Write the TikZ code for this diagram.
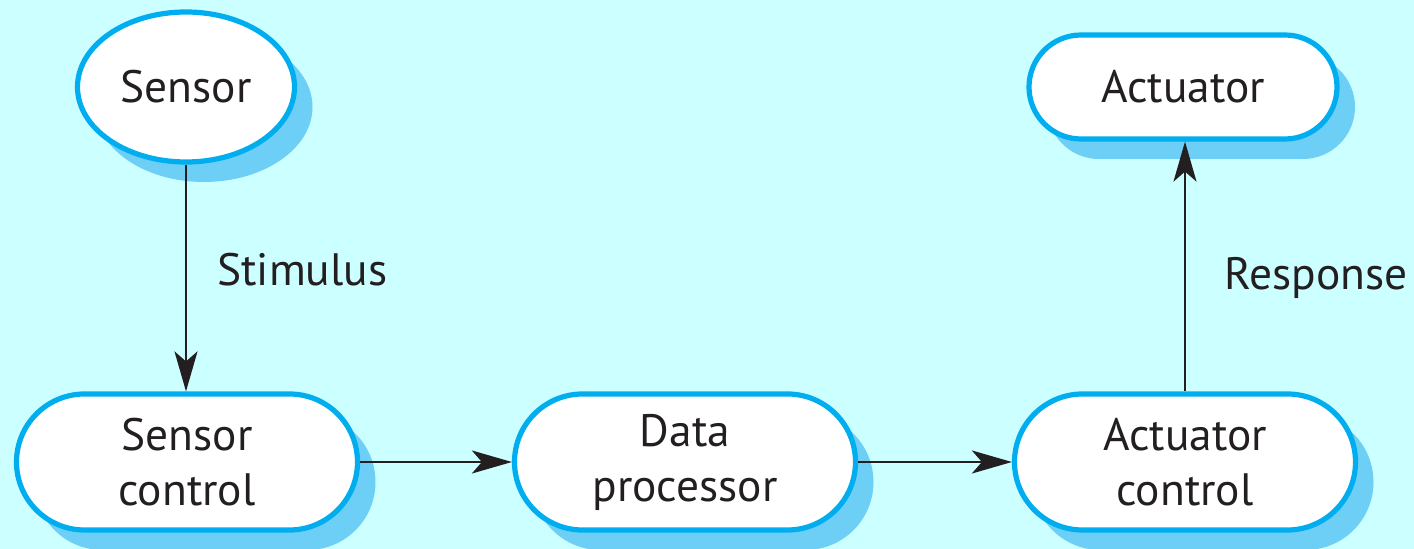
\documentclass[tikz,border=0pt]{standalone}
\usepackage{fontspec}
\setmainfont{PT Sans}
\usetikzlibrary{shapes.geometric,shadows,arrows.meta}
\definecolor{bgcyan}{HTML}{CCFFFF}
\definecolor{edgeblue}{HTML}{00AEEF}
\definecolor{shadeblue}{HTML}{6DCFF6}
\definecolor{inkdark}{HTML}{231F20}
\tikzset{
  unit/.style={draw=edgeblue, line width=2.6pt, fill=white, text=inkdark,
    align=center, inner sep=0pt,
    font=\fontsize{22.7}{27.5}\selectfont,
    general shadow={fill=shadeblue, shadow xshift=9pt, shadow yshift=-10pt}},
  pill/.style={unit, rectangle, rounded corners=#1},
  oval/.style={unit, ellipse},
  flow/.style={draw=inkdark, line width=1.1pt,
    -{Stealth[length=20pt, width=11.5pt, inset=5pt]}},
  tag/.style={text=inkdark, anchor=west, inner sep=0pt,
    font=\fontsize{22.7}{27.5}\selectfont}
}
\begin{document}
\begin{tikzpicture}[x=0.5pt, y=-0.5pt]
  \fill[bgcyan] (0,0) rectangle (1414,549);
  \useasboundingbox (0,0) rectangle (1414,549);

  \node[oval, minimum width=108.5pt, minimum height=75pt] (sensor) at (186,87) {Sensor};
  \node[pill=26pt, minimum width=154pt, minimum height=52pt] (act) at (1183,87) {Actuator};
  \node[pill=34pt, minimum width=170.5pt, minimum height=68pt] (sctl) at (187,462) {Sensor\\control};
  \node[pill=34pt, minimum width=170.5pt, minimum height=68pt] (proc) at (685,462) {Data\\processor};
  \node[pill=34pt, minimum width=170.5pt, minimum height=68pt] (actl) at (1185,462) {Actuator\\control};

  \draw[flow] (sensor.south) -- (sctl.north -| sensor.south);
  \draw[flow] (sctl) -- (proc);
  \draw[flow] (proc) -- (actl);
  \draw[flow] (actl.north) -- (act.south -| actl.north);

  \node[tag] (stim) at (217,270) {Stimulus};
  \node[tag] (resp) at (1224,278) {Response};
\end{tikzpicture}
\end{document}
